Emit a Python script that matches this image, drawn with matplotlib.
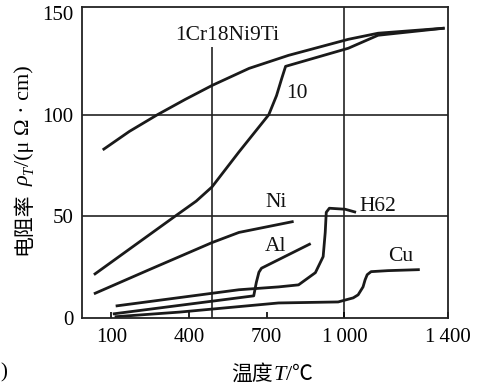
import matplotlib
matplotlib.use("Agg")
import matplotlib.pyplot as plt

plt.rcParams['font.family'] = ['Liberation Serif', 'Noto Sans CJK SC', 'DejaVu Sans']

# ---- data (temperature in degC, resistivity in micro-ohm*cm) ----
cr_T   = [67, 170, 278, 385, 489, 632, 784, 1015, 1130, 1387]
cr_rho = [82.7, 91.8, 100, 107.5, 114.4, 122.8, 129.2, 137.1, 140.1, 142.6]

st10_T   = [33, 351, 428, 489, 593, 708, 738, 758, 773, 1015, 1130, 1387]
st10_rho = [21.3, 50.5, 57.5, 64.5, 81.7, 100, 109.4, 117.8, 123.8, 132.7, 139.1, 142.6]

ni_T   = [33, 247, 489, 593, 804]
ni_rho = [11.9, 23.8, 37.1, 42.1, 47.5]

al_T   = [106, 650, 660, 670, 680, 870]
al_rho = [2.0, 10.9, 17.5, 22.5, 24.5, 36.6]

h62_T   = [117, 593, 746, 823, 888, 918, 926, 930, 942, 1003, 1045]
h62_rho = [5.9, 13.9, 15.3, 16.3, 22.3, 30.2, 42.1, 52.0, 54.0, 53.5, 52.0]

cu_T   = [113, 363, 746, 976, 1034, 1053, 1072, 1080, 1088, 1103, 1168, 1291]
cu_rho = [0.6, 2.9, 7.4, 7.9, 9.9, 11.4, 15.3, 18.8, 21.3, 22.8, 23.3, 23.8]

labels = ['1Cr18Ni9Ti', '10', 'Ni', 'Al', 'H62', 'Cu']
label_T = [547, 815, 738, 735, 1130, 1218]
label_rho = [139.1, 110.4, 56.9, 35.1, 55.0, 30.2]

xticks = [100, 400, 700, 1000, 1400]
xticklabels = ['100', '400', '700', '1\u2009000', '1\u2009400']
yticks = [0, 50, 100, 150]

W, H = 479, 388
fig = plt.figure(figsize=(W/100, H/100), dpi=100)
ax = fig.add_axes([82/W, 1-318/H, (448-82)/W, (318-7)/H])

lc = '#1a1a1a'
lw = 2.0
for T, r in [(cr_T, cr_rho), (st10_T, st10_rho), (ni_T, ni_rho),
             (al_T, al_rho), (h62_T, h62_rho), (cu_T, cu_rho)]:
    ax.plot(T, r, color=lc, lw=lw, solid_capstyle='butt', solid_joinstyle='round')

# grid lines
gc = '#222222'
ax.axhline(50, color=gc, lw=1.2, zorder=0)
ax.axhline(100, color=gc, lw=1.2, zorder=0)
ax.vlines(490, 0, 133.5, color=gc, lw=1.2, zorder=0)
ax.axvline(1000, color=gc, lw=1.2, zorder=0)

for s, t, r in zip(labels, label_T, label_rho):
    ax.text(t, r, s, ha='center', va='center', fontsize=15.5, color='#111111')

ax.set_xlim(-13, 1391)
ax.set_ylim(0, 153)
ax.set_xticks(xticks)
ax.set_xticklabels(xticklabels)
ax.set_yticks(yticks)
ax.tick_params(axis='x', direction='in', length=4, width=1.2, pad=7, labelsize=15)
ax.tick_params(axis='y', direction='in', length=0, pad=6, labelsize=15)
for sp in ax.spines.values():
    sp.set_linewidth(1.3)
    sp.set_color(gc)

cjk = dict(family=['Noto Sans CJK SC'], fontsize=15)
ser = dict(family=['Liberation Serif'], fontsize=16)
ser_it = dict(family=['Liberation Serif'], fontsize=16, style='italic')
sub_it = dict(family=['Liberation Serif'], fontsize=10.5, style='italic')

renderer = fig.canvas.get_renderer()

# y label, built from pieces stacked bottom to top (rotated 90)
ypieces = [('电阻率', cjk, 0, 6), ('ρ', ser_it, 0, 0), ('T', sub_it, 4, 1),
           ('/(μ Ω · cm)', ser, 0, 0)]
ytexts = []
for s, kw, dx, gap in ypieces:
    t = fig.text(0, 0, s, rotation=90, rotation_mode='anchor', ha='left',
                 va='baseline', **kw)
    ytexts.append((t, dx, gap))
lengths = [t.get_window_extent(renderer).height for t, _, _ in ytexts]
total = sum(lengths) + sum(g for _, _, g in ytexts)
base_x = 29
ypos = H - 160 - total / 2
for (t, dx, gap), l in zip(ytexts, lengths):
    t.set_position(((base_x + dx) / W, ypos / H))
    ypos += l + gap

# x label, built from pieces left to right
xpieces = [('温度', cjk, 0, 1), ('T', ser_it, 0, 0), ('/', ser, 0, 0), ('℃', cjk, 0, 0)]
xtexts = []
for s, kw, dy, gap in xpieces:
    t = fig.text(0, 0, s, ha='left', va='baseline', **kw)
    xtexts.append((t, dy, gap))
widths = [t.get_window_extent(renderer).width for t, _, _ in xtexts]
total = sum(widths) + sum(g for _, _, g in xtexts)
xpos = 272 - total / 2
base_y = H - 380
for (t, dy, gap), w in zip(xtexts, widths):
    t.set_position((xpos / W, (base_y + dy) / H))
    xpos += w + gap

fig.text(0.0, 1 - 373 / H, ')', ha='left', va='center', fontsize=15)

fig.savefig('out.png', dpi=100)
